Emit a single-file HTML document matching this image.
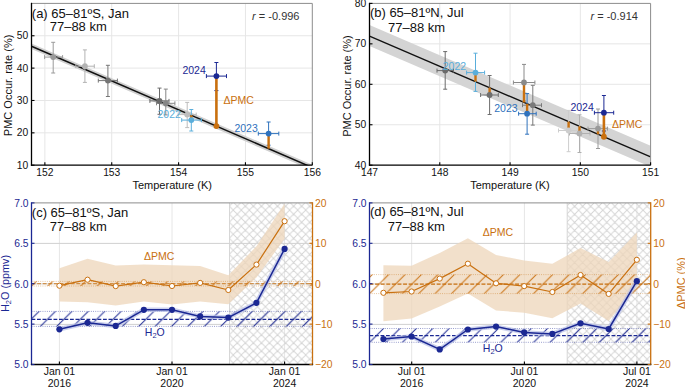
<!DOCTYPE html>
<html><head><meta charset="utf-8"><style>
html,body{margin:0;padding:0;background:#fff;}
svg{display:block;}
text{font-family:"Liberation Sans", sans-serif;}
</style></head><body>
<svg width="685" height="387" viewBox="0 0 685 387">
<rect width="685" height="387" fill="#fff"/>
<defs><pattern id="xhc" patternUnits="userSpaceOnUse" x="-0.2" y="0.8" width="8.05" height="8.05">
<path d="M0,0 L8.05,8.05 M8.05,0 L0,8.05 M-4.025,4.025 L4.025,-4.025 M4.025,12.075000000000001 L12.075000000000001,4.025 M-4.025,4.025 L4.025,12.075000000000001 M4.025,-4.025 L12.075000000000001,4.025" stroke="#d4d4d4" stroke-width="0.9" fill="none"/>
</pattern>
<pattern id="ohc" patternUnits="userSpaceOnUse" x="6.0" y="0" width="16.4" height="16.4">
<path d="M0,16.4 L16.4,0 M-8.2,8.2 L8.2,-8.2 M8.2,24.599999999999998 L24.599999999999998,8.2" stroke="#c9700f" stroke-width="1.0" fill="none"/>
</pattern>
<pattern id="bhc" patternUnits="userSpaceOnUse" x="6.0" y="0" width="16.4" height="16.4">
<path d="M0,16.4 L16.4,0 M-8.2,8.2 L8.2,-8.2 M8.2,24.599999999999998 L24.599999999999998,8.2" stroke="#1b2893" stroke-width="1.0" fill="none"/>
</pattern><pattern id="xhd" patternUnits="userSpaceOnUse" x="-0.95" y="0.95" width="8.05" height="8.05">
<path d="M0,0 L8.05,8.05 M8.05,0 L0,8.05 M-4.025,4.025 L4.025,-4.025 M4.025,12.075000000000001 L12.075000000000001,4.025 M-4.025,4.025 L4.025,12.075000000000001 M4.025,-4.025 L12.075000000000001,4.025" stroke="#d4d4d4" stroke-width="0.9" fill="none"/>
</pattern>
<pattern id="ohd" patternUnits="userSpaceOnUse" x="7.2" y="0" width="16.4" height="16.4">
<path d="M0,16.4 L16.4,0 M-8.2,8.2 L8.2,-8.2 M8.2,24.599999999999998 L24.599999999999998,8.2" stroke="#c9700f" stroke-width="1.0" fill="none"/>
</pattern>
<pattern id="bhd" patternUnits="userSpaceOnUse" x="6.8" y="0" width="16.4" height="16.4">
<path d="M0,16.4 L16.4,0 M-8.2,8.2 L8.2,-8.2 M8.2,24.599999999999998 L24.599999999999998,8.2" stroke="#1b2893" stroke-width="1.0" fill="none"/>
</pattern></defs>
<line x1="44.87" y1="3.40" x2="44.87" y2="165.20" stroke="#e6e6e6" stroke-width="1" />
<line x1="111.73" y1="3.40" x2="111.73" y2="165.20" stroke="#e6e6e6" stroke-width="1" />
<line x1="178.59" y1="3.40" x2="178.59" y2="165.20" stroke="#e6e6e6" stroke-width="1" />
<line x1="245.44" y1="3.40" x2="245.44" y2="165.20" stroke="#e6e6e6" stroke-width="1" />
<line x1="31.50" y1="132.84" x2="312.30" y2="132.84" stroke="#e6e6e6" stroke-width="1" />
<line x1="31.50" y1="100.48" x2="312.30" y2="100.48" stroke="#e6e6e6" stroke-width="1" />
<line x1="31.50" y1="68.12" x2="312.30" y2="68.12" stroke="#e6e6e6" stroke-width="1" />
<line x1="31.50" y1="35.76" x2="312.30" y2="35.76" stroke="#e6e6e6" stroke-width="1" />
<clipPath id="ca"><rect x="31.5" y="3.4" width="280.8" height="161.79999999999998"/></clipPath>
<g clip-path="url(#ca)">
<polygon points="31.50,43.40 312.30,164.76 312.30,170.36 31.50,49.00" fill="#d0d0d0" stroke="none" stroke-width="0" />
<line x1="31.50" y1="46.20" x2="312.30" y2="167.56" stroke="#111" stroke-width="1.5" />
</g>
<line x1="53.20" y1="42.30" x2="53.20" y2="73.00" stroke="#9a9a9a" stroke-width="1.0" />
<line x1="44.60" y1="57.10" x2="62.60" y2="57.10" stroke="#9a9a9a" stroke-width="1.0" />
<line x1="51.20" y1="42.30" x2="55.20" y2="42.30" stroke="#9a9a9a" stroke-width="1.0" />
<line x1="51.20" y1="73.00" x2="55.20" y2="73.00" stroke="#9a9a9a" stroke-width="1.0" />
<line x1="44.60" y1="55.10" x2="44.60" y2="59.10" stroke="#9a9a9a" stroke-width="1.0" />
<line x1="62.60" y1="55.10" x2="62.60" y2="59.10" stroke="#9a9a9a" stroke-width="1.0" />
<line x1="84.90" y1="49.90" x2="84.90" y2="82.40" stroke="#b3b3b3" stroke-width="1.0" />
<line x1="75.80" y1="66.20" x2="94.30" y2="66.20" stroke="#b3b3b3" stroke-width="1.0" />
<line x1="82.90" y1="49.90" x2="86.90" y2="49.90" stroke="#b3b3b3" stroke-width="1.0" />
<line x1="82.90" y1="82.40" x2="86.90" y2="82.40" stroke="#b3b3b3" stroke-width="1.0" />
<line x1="75.80" y1="64.20" x2="75.80" y2="68.20" stroke="#b3b3b3" stroke-width="1.0" />
<line x1="94.30" y1="64.20" x2="94.30" y2="68.20" stroke="#b3b3b3" stroke-width="1.0" />
<line x1="107.90" y1="65.30" x2="107.90" y2="96.50" stroke="#757575" stroke-width="1.0" />
<line x1="98.30" y1="80.60" x2="117.40" y2="80.60" stroke="#757575" stroke-width="1.0" />
<line x1="105.90" y1="65.30" x2="109.90" y2="65.30" stroke="#757575" stroke-width="1.0" />
<line x1="105.90" y1="96.50" x2="109.90" y2="96.50" stroke="#757575" stroke-width="1.0" />
<line x1="98.30" y1="78.60" x2="98.30" y2="82.60" stroke="#757575" stroke-width="1.0" />
<line x1="117.40" y1="78.60" x2="117.40" y2="82.60" stroke="#757575" stroke-width="1.0" />
<line x1="159.50" y1="88.10" x2="159.50" y2="114.30" stroke="#6a6a6a" stroke-width="1.0" />
<line x1="149.90" y1="100.90" x2="169.00" y2="100.90" stroke="#6a6a6a" stroke-width="1.0" />
<line x1="157.50" y1="88.10" x2="161.50" y2="88.10" stroke="#6a6a6a" stroke-width="1.0" />
<line x1="157.50" y1="114.30" x2="161.50" y2="114.30" stroke="#6a6a6a" stroke-width="1.0" />
<line x1="149.90" y1="98.90" x2="149.90" y2="102.90" stroke="#6a6a6a" stroke-width="1.0" />
<line x1="169.00" y1="98.90" x2="169.00" y2="102.90" stroke="#6a6a6a" stroke-width="1.0" />
<line x1="165.80" y1="89.10" x2="165.80" y2="114.90" stroke="#858585" stroke-width="1.0" />
<line x1="156.50" y1="103.30" x2="174.90" y2="103.30" stroke="#858585" stroke-width="1.0" />
<line x1="163.80" y1="89.10" x2="167.80" y2="89.10" stroke="#858585" stroke-width="1.0" />
<line x1="163.80" y1="114.90" x2="167.80" y2="114.90" stroke="#858585" stroke-width="1.0" />
<line x1="156.50" y1="101.30" x2="156.50" y2="105.30" stroke="#858585" stroke-width="1.0" />
<line x1="174.90" y1="101.30" x2="174.90" y2="105.30" stroke="#858585" stroke-width="1.0" />
<line x1="187.20" y1="102.40" x2="187.20" y2="127.60" stroke="#bdbdbd" stroke-width="1.0" />
<line x1="178.20" y1="114.60" x2="196.20" y2="114.60" stroke="#bdbdbd" stroke-width="1.0" />
<line x1="185.20" y1="102.40" x2="189.20" y2="102.40" stroke="#bdbdbd" stroke-width="1.0" />
<line x1="185.20" y1="127.60" x2="189.20" y2="127.60" stroke="#bdbdbd" stroke-width="1.0" />
<line x1="178.20" y1="112.60" x2="178.20" y2="116.60" stroke="#bdbdbd" stroke-width="1.0" />
<line x1="196.20" y1="112.60" x2="196.20" y2="116.60" stroke="#bdbdbd" stroke-width="1.0" />
<line x1="191.30" y1="109.50" x2="191.30" y2="131.00" stroke="#5aaedb" stroke-width="1.0" />
<line x1="181.70" y1="120.10" x2="201.40" y2="120.10" stroke="#5aaedb" stroke-width="1.0" />
<line x1="189.30" y1="109.50" x2="193.30" y2="109.50" stroke="#5aaedb" stroke-width="1.0" />
<line x1="189.30" y1="131.00" x2="193.30" y2="131.00" stroke="#5aaedb" stroke-width="1.0" />
<line x1="181.70" y1="118.10" x2="181.70" y2="122.10" stroke="#5aaedb" stroke-width="1.0" />
<line x1="201.40" y1="118.10" x2="201.40" y2="122.10" stroke="#5aaedb" stroke-width="1.0" />
<line x1="216.40" y1="62.50" x2="216.40" y2="90.60" stroke="#1b2893" stroke-width="1.0" />
<line x1="206.40" y1="76.10" x2="226.50" y2="76.10" stroke="#1b2893" stroke-width="1.0" />
<line x1="214.40" y1="62.50" x2="218.40" y2="62.50" stroke="#1b2893" stroke-width="1.0" />
<line x1="214.40" y1="90.60" x2="218.40" y2="90.60" stroke="#1b2893" stroke-width="1.0" />
<line x1="206.40" y1="74.10" x2="206.40" y2="78.10" stroke="#1b2893" stroke-width="1.0" />
<line x1="226.50" y1="74.10" x2="226.50" y2="78.10" stroke="#1b2893" stroke-width="1.0" />
<line x1="268.60" y1="122.00" x2="268.60" y2="145.20" stroke="#2f72bd" stroke-width="1.0" />
<line x1="258.30" y1="133.60" x2="278.80" y2="133.60" stroke="#2f72bd" stroke-width="1.0" />
<line x1="266.60" y1="122.00" x2="270.60" y2="122.00" stroke="#2f72bd" stroke-width="1.0" />
<line x1="266.60" y1="145.20" x2="270.60" y2="145.20" stroke="#2f72bd" stroke-width="1.0" />
<line x1="258.30" y1="131.60" x2="258.30" y2="135.60" stroke="#2f72bd" stroke-width="1.0" />
<line x1="278.80" y1="131.60" x2="278.80" y2="135.60" stroke="#2f72bd" stroke-width="1.0" />
<line x1="191.30" y1="120.10" x2="191.30" y2="115.27" stroke="#c9700f" stroke-width="2.4" />
<line x1="216.40" y1="76.10" x2="216.40" y2="126.11" stroke="#c9700f" stroke-width="2.6" />
<line x1="268.60" y1="133.60" x2="268.60" y2="148.67" stroke="#c9700f" stroke-width="2.4" />
<circle cx="53.20" cy="57.10" r="2.9" fill="#9a9a9a" stroke="none" stroke-width="0"/>
<circle cx="84.90" cy="66.20" r="2.9" fill="#b3b3b3" stroke="none" stroke-width="0"/>
<circle cx="107.90" cy="80.60" r="2.9" fill="#757575" stroke="none" stroke-width="0"/>
<circle cx="159.50" cy="100.90" r="2.9" fill="#6a6a6a" stroke="none" stroke-width="0"/>
<circle cx="165.80" cy="103.30" r="2.9" fill="#858585" stroke="none" stroke-width="0"/>
<circle cx="187.20" cy="114.60" r="2.9" fill="#bdbdbd" stroke="none" stroke-width="0"/>
<circle cx="191.30" cy="120.10" r="2.9" fill="#5aaedb" stroke="none" stroke-width="0"/>
<circle cx="216.40" cy="76.10" r="2.9" fill="#1b2893" stroke="none" stroke-width="0"/>
<circle cx="268.60" cy="133.60" r="2.9" fill="#2f72bd" stroke="none" stroke-width="0"/>
<circle cx="216.40" cy="126.11" r="2.9" fill="#c9700f" stroke="none" stroke-width="0"/>
<text x="205.80" y="74.00" font-size="10.5" fill="#1b2893" text-anchor="end" >2024</text>
<text x="180.90" y="117.80" font-size="10.5" fill="#5aaedb" text-anchor="end" >2022</text>
<text x="257.80" y="131.60" font-size="10.5" fill="#2f72bd" text-anchor="end" >2023</text>
<text x="223.60" y="104.40" font-size="10.5" fill="#c9700f" text-anchor="start" >ΔPMC</text>
<line x1="31.50" y1="3.40" x2="312.30" y2="3.40" stroke="#8c8c8c" stroke-width="1" />
<line x1="312.30" y1="3.40" x2="312.30" y2="165.20" stroke="#8c8c8c" stroke-width="1" />
<line x1="31.50" y1="2.80" x2="31.50" y2="165.80" stroke="#000" stroke-width="1.3" />
<line x1="30.90" y1="165.20" x2="312.30" y2="165.20" stroke="#000" stroke-width="1.3" />
<line x1="44.87" y1="165.20" x2="44.87" y2="162.20" stroke="#000" stroke-width="1.1" />
<text x="44.87" y="175.60" font-size="10.3" fill="#111" text-anchor="middle" >152</text>
<line x1="111.73" y1="165.20" x2="111.73" y2="162.20" stroke="#000" stroke-width="1.1" />
<text x="111.73" y="175.60" font-size="10.3" fill="#111" text-anchor="middle" >153</text>
<line x1="178.59" y1="165.20" x2="178.59" y2="162.20" stroke="#000" stroke-width="1.1" />
<text x="178.59" y="175.60" font-size="10.3" fill="#111" text-anchor="middle" >154</text>
<line x1="245.44" y1="165.20" x2="245.44" y2="162.20" stroke="#000" stroke-width="1.1" />
<text x="245.44" y="175.60" font-size="10.3" fill="#111" text-anchor="middle" >155</text>
<line x1="312.30" y1="165.20" x2="312.30" y2="162.20" stroke="#000" stroke-width="1.1" />
<text x="312.30" y="175.60" font-size="10.3" fill="#111" text-anchor="middle" >156</text>
<line x1="31.50" y1="165.20" x2="34.50" y2="165.20" stroke="#000" stroke-width="1.1" />
<text x="28.30" y="168.80" font-size="10.3" fill="#111" text-anchor="end" >10</text>
<line x1="31.50" y1="132.84" x2="34.50" y2="132.84" stroke="#000" stroke-width="1.1" />
<text x="28.30" y="136.44" font-size="10.3" fill="#111" text-anchor="end" >20</text>
<line x1="31.50" y1="100.48" x2="34.50" y2="100.48" stroke="#000" stroke-width="1.1" />
<text x="28.30" y="104.08" font-size="10.3" fill="#111" text-anchor="end" >30</text>
<line x1="31.50" y1="68.12" x2="34.50" y2="68.12" stroke="#000" stroke-width="1.1" />
<text x="28.30" y="71.72" font-size="10.3" fill="#111" text-anchor="end" >40</text>
<line x1="31.50" y1="35.76" x2="34.50" y2="35.76" stroke="#000" stroke-width="1.1" />
<text x="28.30" y="39.36" font-size="10.3" fill="#111" text-anchor="end" >50</text>
<text x="172.20" y="189.00" font-size="11" fill="#111" text-anchor="middle" >Temperature (K)</text>
<text x="0.00" y="0.00" font-size="11" fill="#111" text-anchor="middle" transform="translate(11.5,85.4) rotate(-90)">PMC Occur. rate (%)</text>
<text x="31.80" y="17.50" font-size="13" fill="#111" text-anchor="start" >(a) 65–81ºS, Jan</text>
<text x="49.70" y="31.40" font-size="13" fill="#111" text-anchor="start" >77–88 km</text>
<text x="252.10" y="19.80" font-size="11" fill="#333" text-anchor="start" ><tspan font-style="italic">r</tspan> = -0.996</text>
<line x1="439.77" y1="3.40" x2="439.77" y2="165.20" stroke="#e6e6e6" stroke-width="1" />
<line x1="510.05" y1="3.40" x2="510.05" y2="165.20" stroke="#e6e6e6" stroke-width="1" />
<line x1="580.33" y1="3.40" x2="580.33" y2="165.20" stroke="#e6e6e6" stroke-width="1" />
<line x1="369.50" y1="124.75" x2="650.60" y2="124.75" stroke="#e6e6e6" stroke-width="1" />
<line x1="369.50" y1="84.30" x2="650.60" y2="84.30" stroke="#e6e6e6" stroke-width="1" />
<line x1="369.50" y1="43.85" x2="650.60" y2="43.85" stroke="#e6e6e6" stroke-width="1" />
<clipPath id="cb"><rect x="369.5" y="3.4" width="281.1" height="161.79999999999998"/></clipPath>
<g clip-path="url(#cb)">
<polygon points="369.50,25.10 650.60,145.83 650.60,166.83 369.50,46.10" fill="#d4d4d4" stroke="none" stroke-width="0" />
<line x1="369.50" y1="36.10" x2="650.60" y2="156.83" stroke="#111" stroke-width="1.4" />
</g>
<line x1="445.20" y1="51.60" x2="445.20" y2="89.20" stroke="#6a6a6a" stroke-width="1.0" />
<line x1="437.00" y1="70.60" x2="453.50" y2="70.60" stroke="#6a6a6a" stroke-width="1.0" />
<line x1="443.20" y1="51.60" x2="447.20" y2="51.60" stroke="#6a6a6a" stroke-width="1.0" />
<line x1="443.20" y1="89.20" x2="447.20" y2="89.20" stroke="#6a6a6a" stroke-width="1.0" />
<line x1="437.00" y1="68.60" x2="437.00" y2="72.60" stroke="#6a6a6a" stroke-width="1.0" />
<line x1="453.50" y1="68.60" x2="453.50" y2="72.60" stroke="#6a6a6a" stroke-width="1.0" />
<line x1="489.60" y1="75.50" x2="489.60" y2="114.50" stroke="#6e6e6e" stroke-width="1.0" />
<line x1="480.60" y1="95.00" x2="498.30" y2="95.00" stroke="#6e6e6e" stroke-width="1.0" />
<line x1="487.60" y1="75.50" x2="491.60" y2="75.50" stroke="#6e6e6e" stroke-width="1.0" />
<line x1="487.60" y1="114.50" x2="491.60" y2="114.50" stroke="#6e6e6e" stroke-width="1.0" />
<line x1="480.60" y1="93.00" x2="480.60" y2="97.00" stroke="#6e6e6e" stroke-width="1.0" />
<line x1="498.30" y1="93.00" x2="498.30" y2="97.00" stroke="#6e6e6e" stroke-width="1.0" />
<line x1="524.00" y1="64.40" x2="524.00" y2="101.00" stroke="#8a8a8a" stroke-width="1.0" />
<line x1="513.40" y1="82.50" x2="534.90" y2="82.50" stroke="#8a8a8a" stroke-width="1.0" />
<line x1="522.00" y1="64.40" x2="526.00" y2="64.40" stroke="#8a8a8a" stroke-width="1.0" />
<line x1="522.00" y1="101.00" x2="526.00" y2="101.00" stroke="#8a8a8a" stroke-width="1.0" />
<line x1="513.40" y1="80.50" x2="513.40" y2="84.50" stroke="#8a8a8a" stroke-width="1.0" />
<line x1="534.90" y1="80.50" x2="534.90" y2="84.50" stroke="#8a8a8a" stroke-width="1.0" />
<line x1="532.80" y1="85.30" x2="532.80" y2="125.10" stroke="#7a7a7a" stroke-width="1.0" />
<line x1="522.50" y1="105.20" x2="541.50" y2="105.20" stroke="#7a7a7a" stroke-width="1.0" />
<line x1="530.80" y1="85.30" x2="534.80" y2="85.30" stroke="#7a7a7a" stroke-width="1.0" />
<line x1="530.80" y1="125.10" x2="534.80" y2="125.10" stroke="#7a7a7a" stroke-width="1.0" />
<line x1="522.50" y1="103.20" x2="522.50" y2="107.20" stroke="#7a7a7a" stroke-width="1.0" />
<line x1="541.50" y1="103.20" x2="541.50" y2="107.20" stroke="#7a7a7a" stroke-width="1.0" />
<line x1="568.60" y1="110.40" x2="568.60" y2="151.70" stroke="#cdcdcd" stroke-width="1.0" />
<line x1="558.50" y1="130.50" x2="578.00" y2="130.50" stroke="#cdcdcd" stroke-width="1.0" />
<line x1="566.60" y1="110.40" x2="570.60" y2="110.40" stroke="#cdcdcd" stroke-width="1.0" />
<line x1="566.60" y1="151.70" x2="570.60" y2="151.70" stroke="#cdcdcd" stroke-width="1.0" />
<line x1="558.50" y1="128.50" x2="558.50" y2="132.50" stroke="#cdcdcd" stroke-width="1.0" />
<line x1="578.00" y1="128.50" x2="578.00" y2="132.50" stroke="#cdcdcd" stroke-width="1.0" />
<line x1="579.50" y1="114.80" x2="579.50" y2="152.50" stroke="#b0b0b0" stroke-width="1.0" />
<line x1="569.50" y1="133.50" x2="590.00" y2="133.50" stroke="#b0b0b0" stroke-width="1.0" />
<line x1="577.50" y1="114.80" x2="581.50" y2="114.80" stroke="#b0b0b0" stroke-width="1.0" />
<line x1="577.50" y1="152.50" x2="581.50" y2="152.50" stroke="#b0b0b0" stroke-width="1.0" />
<line x1="569.50" y1="131.50" x2="569.50" y2="135.50" stroke="#b0b0b0" stroke-width="1.0" />
<line x1="590.00" y1="131.50" x2="590.00" y2="135.50" stroke="#b0b0b0" stroke-width="1.0" />
<line x1="598.00" y1="109.00" x2="598.00" y2="148.50" stroke="#9a9a9a" stroke-width="1.0" />
<line x1="588.00" y1="128.60" x2="607.50" y2="128.60" stroke="#9a9a9a" stroke-width="1.0" />
<line x1="596.00" y1="109.00" x2="600.00" y2="109.00" stroke="#9a9a9a" stroke-width="1.0" />
<line x1="596.00" y1="148.50" x2="600.00" y2="148.50" stroke="#9a9a9a" stroke-width="1.0" />
<line x1="588.00" y1="126.60" x2="588.00" y2="130.60" stroke="#9a9a9a" stroke-width="1.0" />
<line x1="607.50" y1="126.60" x2="607.50" y2="130.60" stroke="#9a9a9a" stroke-width="1.0" />
<line x1="475.50" y1="53.20" x2="475.50" y2="91.40" stroke="#5aaedb" stroke-width="1.0" />
<line x1="466.60" y1="72.60" x2="484.60" y2="72.60" stroke="#5aaedb" stroke-width="1.0" />
<line x1="473.50" y1="53.20" x2="477.50" y2="53.20" stroke="#5aaedb" stroke-width="1.0" />
<line x1="473.50" y1="91.40" x2="477.50" y2="91.40" stroke="#5aaedb" stroke-width="1.0" />
<line x1="466.60" y1="70.60" x2="466.60" y2="74.60" stroke="#5aaedb" stroke-width="1.0" />
<line x1="484.60" y1="70.60" x2="484.60" y2="74.60" stroke="#5aaedb" stroke-width="1.0" />
<line x1="527.10" y1="93.60" x2="527.10" y2="134.20" stroke="#2f72bd" stroke-width="1.0" />
<line x1="518.60" y1="113.70" x2="536.20" y2="113.70" stroke="#2f72bd" stroke-width="1.0" />
<line x1="525.10" y1="93.60" x2="529.10" y2="93.60" stroke="#2f72bd" stroke-width="1.0" />
<line x1="525.10" y1="134.20" x2="529.10" y2="134.20" stroke="#2f72bd" stroke-width="1.0" />
<line x1="518.60" y1="111.70" x2="518.60" y2="115.70" stroke="#2f72bd" stroke-width="1.0" />
<line x1="536.20" y1="111.70" x2="536.20" y2="115.70" stroke="#2f72bd" stroke-width="1.0" />
<line x1="603.90" y1="95.50" x2="603.90" y2="131.00" stroke="#1b2893" stroke-width="1.0" />
<line x1="594.40" y1="112.70" x2="613.70" y2="112.70" stroke="#1b2893" stroke-width="1.0" />
<line x1="601.90" y1="95.50" x2="605.90" y2="95.50" stroke="#1b2893" stroke-width="1.0" />
<line x1="601.90" y1="131.00" x2="605.90" y2="131.00" stroke="#1b2893" stroke-width="1.0" />
<line x1="594.40" y1="110.70" x2="594.40" y2="114.70" stroke="#1b2893" stroke-width="1.0" />
<line x1="613.70" y1="110.70" x2="613.70" y2="114.70" stroke="#1b2893" stroke-width="1.0" />
<line x1="445.20" y1="70.60" x2="445.20" y2="68.61" stroke="#c9700f" stroke-width="2.4" />
<line x1="489.60" y1="95.00" x2="489.60" y2="87.68" stroke="#c9700f" stroke-width="2.4" />
<line x1="524.00" y1="82.50" x2="524.00" y2="102.46" stroke="#c9700f" stroke-width="2.4" />
<line x1="532.80" y1="105.20" x2="532.80" y2="106.24" stroke="#c9700f" stroke-width="2.4" />
<line x1="568.60" y1="130.50" x2="568.60" y2="121.61" stroke="#c9700f" stroke-width="2.4" />
<line x1="579.50" y1="133.50" x2="579.50" y2="126.29" stroke="#c9700f" stroke-width="2.4" />
<line x1="598.00" y1="128.60" x2="598.00" y2="134.24" stroke="#c9700f" stroke-width="2.4" />
<line x1="475.50" y1="72.60" x2="475.50" y2="81.63" stroke="#c9700f" stroke-width="2.4" />
<line x1="527.10" y1="113.70" x2="527.10" y2="103.79" stroke="#c9700f" stroke-width="2.4" />
<line x1="603.90" y1="112.70" x2="603.90" y2="136.77" stroke="#c9700f" stroke-width="2.6" />
<circle cx="445.20" cy="70.60" r="2.9" fill="#6a6a6a" stroke="none" stroke-width="0"/>
<circle cx="489.60" cy="95.00" r="2.9" fill="#6e6e6e" stroke="none" stroke-width="0"/>
<circle cx="524.00" cy="82.50" r="2.9" fill="#8a8a8a" stroke="none" stroke-width="0"/>
<circle cx="532.80" cy="105.20" r="2.9" fill="#7a7a7a" stroke="none" stroke-width="0"/>
<circle cx="568.60" cy="130.50" r="2.9" fill="#cdcdcd" stroke="none" stroke-width="0"/>
<circle cx="579.50" cy="133.50" r="2.9" fill="#b0b0b0" stroke="none" stroke-width="0"/>
<circle cx="598.00" cy="128.60" r="2.9" fill="#9a9a9a" stroke="none" stroke-width="0"/>
<circle cx="475.50" cy="72.60" r="2.9" fill="#5aaedb" stroke="none" stroke-width="0"/>
<circle cx="527.10" cy="113.70" r="2.9" fill="#2f72bd" stroke="none" stroke-width="0"/>
<circle cx="603.90" cy="112.70" r="2.9" fill="#1b2893" stroke="none" stroke-width="0"/>
<circle cx="603.90" cy="136.77" r="2.9" fill="#c9700f" stroke="none" stroke-width="0"/>
<text x="593.80" y="110.50" font-size="10.5" fill="#1b2893" text-anchor="end" >2024</text>
<text x="466.10" y="69.80" font-size="10.5" fill="#5aaedb" text-anchor="end" >2022</text>
<text x="517.60" y="112.00" font-size="10.5" fill="#2f72bd" text-anchor="end" >2023</text>
<text x="612.10" y="127.90" font-size="10.5" fill="#c9700f" text-anchor="start" >ΔPMC</text>
<line x1="369.50" y1="3.40" x2="650.60" y2="3.40" stroke="#8c8c8c" stroke-width="1" />
<line x1="650.60" y1="3.40" x2="650.60" y2="165.20" stroke="#8c8c8c" stroke-width="1" />
<line x1="369.50" y1="2.80" x2="369.50" y2="165.80" stroke="#000" stroke-width="1.3" />
<line x1="368.90" y1="165.20" x2="650.60" y2="165.20" stroke="#000" stroke-width="1.3" />
<line x1="369.50" y1="165.20" x2="369.50" y2="162.20" stroke="#000" stroke-width="1.1" />
<text x="369.50" y="175.60" font-size="10.3" fill="#111" text-anchor="middle" >147</text>
<line x1="439.77" y1="165.20" x2="439.77" y2="162.20" stroke="#000" stroke-width="1.1" />
<text x="439.77" y="175.60" font-size="10.3" fill="#111" text-anchor="middle" >148</text>
<line x1="510.05" y1="165.20" x2="510.05" y2="162.20" stroke="#000" stroke-width="1.1" />
<text x="510.05" y="175.60" font-size="10.3" fill="#111" text-anchor="middle" >149</text>
<line x1="580.33" y1="165.20" x2="580.33" y2="162.20" stroke="#000" stroke-width="1.1" />
<text x="580.33" y="175.60" font-size="10.3" fill="#111" text-anchor="middle" >150</text>
<line x1="650.60" y1="165.20" x2="650.60" y2="162.20" stroke="#000" stroke-width="1.1" />
<text x="650.60" y="175.60" font-size="10.3" fill="#111" text-anchor="middle" >151</text>
<line x1="369.50" y1="165.20" x2="372.50" y2="165.20" stroke="#000" stroke-width="1.1" />
<text x="366.30" y="168.80" font-size="10.3" fill="#111" text-anchor="end" >40</text>
<line x1="369.50" y1="124.75" x2="372.50" y2="124.75" stroke="#000" stroke-width="1.1" />
<text x="366.30" y="128.35" font-size="10.3" fill="#111" text-anchor="end" >50</text>
<line x1="369.50" y1="84.30" x2="372.50" y2="84.30" stroke="#000" stroke-width="1.1" />
<text x="366.30" y="87.90" font-size="10.3" fill="#111" text-anchor="end" >60</text>
<line x1="369.50" y1="43.85" x2="372.50" y2="43.85" stroke="#000" stroke-width="1.1" />
<text x="366.30" y="47.45" font-size="10.3" fill="#111" text-anchor="end" >70</text>
<line x1="369.50" y1="3.40" x2="372.50" y2="3.40" stroke="#000" stroke-width="1.1" />
<text x="366.30" y="7.00" font-size="10.3" fill="#111" text-anchor="end" >80</text>
<text x="510.00" y="189.00" font-size="11" fill="#111" text-anchor="middle" >Temperature (K)</text>
<text x="0.00" y="0.00" font-size="11" fill="#111" text-anchor="middle" transform="translate(350.6,86.0) rotate(-90)">PMC Occur. rate (%)</text>
<text x="369.90" y="17.20" font-size="13" fill="#111" text-anchor="start" >(b) 65–81ºN, Jul</text>
<text x="388.00" y="31.60" font-size="13" fill="#111" text-anchor="start" >77–88 km</text>
<text x="590.50" y="19.80" font-size="11" fill="#333" text-anchor="start" ><tspan font-style="italic">r</tspan> = -0.914</text>
<clipPath id="cc"><rect x="31.5" y="202.9" width="281.0" height="161.6"/></clipPath>
<line x1="59.40" y1="202.90" x2="59.40" y2="364.50" stroke="#e6e6e6" stroke-width="1" />
<line x1="172.00" y1="202.90" x2="172.00" y2="364.50" stroke="#e6e6e6" stroke-width="1" />
<line x1="284.60" y1="202.90" x2="284.60" y2="364.50" stroke="#e6e6e6" stroke-width="1" />
<line x1="31.50" y1="243.40" x2="312.50" y2="243.40" stroke="#d0d0d0" stroke-width="1" />
<line x1="31.50" y1="283.90" x2="312.50" y2="283.90" stroke="#d0d0d0" stroke-width="1" />
<line x1="31.50" y1="324.40" x2="312.50" y2="324.40" stroke="#d0d0d0" stroke-width="1" />
<rect x="229.5" y="202.9" width="83.0" height="161.6" fill="url(#xhc)"/>
<line x1="229.50" y1="202.90" x2="229.50" y2="364.50" stroke="#d2d2d2" stroke-width="0.9" />
<polygon points="59.40,268.30 87.55,258.80 115.70,265.50 143.85,264.40 172.00,265.20 200.15,266.00 228.30,275.30 256.45,246.20 284.60,203.60 284.60,238.80 256.45,277.50 228.30,304.30 200.15,301.40 172.00,304.60 143.85,301.40 115.70,305.50 87.55,302.30 59.40,301.60" fill="#eed6ba" stroke="none" stroke-width="0" fill-opacity="0.75"/>
<g clip-path="url(#cc)">
<rect x="31.5" y="281.4" width="281.0" height="4.600000000000023" fill="url(#ohc)"/>
<line x1="31.50" y1="281.40" x2="312.50" y2="281.40" stroke="#c9700f" stroke-width="0.8" stroke-dasharray="0.9 1.3" stroke-opacity="0.55"/>
<line x1="31.50" y1="286.00" x2="312.50" y2="286.00" stroke="#c9700f" stroke-width="0.8" stroke-dasharray="0.9 1.3" stroke-opacity="0.55"/>
<line x1="31.50" y1="283.50" x2="312.50" y2="283.50" stroke="#c9700f" stroke-width="1.25" stroke-dasharray="3.9 1.7" stroke-opacity="0.7"/>
<rect x="31.5" y="311.4" width="281.0" height="15.0" fill="url(#bhc)"/>
<line x1="31.50" y1="311.40" x2="312.50" y2="311.40" stroke="#1b2893" stroke-width="0.75" stroke-dasharray="0.9 1.3" stroke-opacity="0.65"/>
<line x1="31.50" y1="326.40" x2="312.50" y2="326.40" stroke="#1b2893" stroke-width="0.75" stroke-dasharray="0.9 1.3" stroke-opacity="0.65"/>
<line x1="31.50" y1="319.30" x2="312.50" y2="319.30" stroke="#1b2893" stroke-width="1.15" stroke-dasharray="3.8 1.7"/>
</g>
<polyline points="59.40,285.70 87.55,279.70 115.70,286.10 143.85,282.20 172.00,286.00 200.15,282.90 228.30,290.00 256.45,264.60 284.60,221.20" fill="none" stroke="#c9700f" stroke-width="1.2" stroke-linejoin="round" />
<circle cx="59.40" cy="285.70" r="2.6" fill="#fff" stroke="#c9700f" stroke-width="1.0"/>
<circle cx="87.55" cy="279.70" r="2.6" fill="#fff" stroke="#c9700f" stroke-width="1.0"/>
<circle cx="115.70" cy="286.10" r="2.6" fill="#fff" stroke="#c9700f" stroke-width="1.0"/>
<circle cx="143.85" cy="282.20" r="2.6" fill="#fff" stroke="#c9700f" stroke-width="1.0"/>
<circle cx="172.00" cy="286.00" r="2.6" fill="#fff" stroke="#c9700f" stroke-width="1.0"/>
<circle cx="200.15" cy="282.90" r="2.6" fill="#fff" stroke="#c9700f" stroke-width="1.0"/>
<circle cx="228.30" cy="290.00" r="2.6" fill="#fff" stroke="#c9700f" stroke-width="1.0"/>
<circle cx="256.45" cy="264.60" r="2.6" fill="#fff" stroke="#c9700f" stroke-width="1.0"/>
<circle cx="284.60" cy="221.20" r="2.6" fill="#fff" stroke="#c9700f" stroke-width="1.0"/>
<polyline points="59.40,329.30 87.55,322.80 115.70,325.90 143.85,309.80 172.00,309.80 200.15,316.40 228.30,317.60 256.45,302.80 284.60,248.90" fill="none" stroke="#b8bfe6" stroke-width="4.5" stroke-linejoin="round" stroke-opacity="0.7"/>
<polyline points="59.40,329.30 87.55,322.80 115.70,325.90 143.85,309.80 172.00,309.80 200.15,316.40 228.30,317.60 256.45,302.80 284.60,248.90" fill="none" stroke="#1b2893" stroke-width="1.5" stroke-linejoin="round" />
<circle cx="59.40" cy="329.30" r="3.1" fill="#1b2893" stroke="none" stroke-width="0"/>
<circle cx="87.55" cy="322.80" r="3.1" fill="#1b2893" stroke="none" stroke-width="0"/>
<circle cx="115.70" cy="325.90" r="3.1" fill="#1b2893" stroke="none" stroke-width="0"/>
<circle cx="143.85" cy="309.80" r="3.1" fill="#1b2893" stroke="none" stroke-width="0"/>
<circle cx="172.00" cy="309.80" r="3.1" fill="#1b2893" stroke="none" stroke-width="0"/>
<circle cx="200.15" cy="316.40" r="3.1" fill="#1b2893" stroke="none" stroke-width="0"/>
<circle cx="228.30" cy="317.60" r="3.1" fill="#1b2893" stroke="none" stroke-width="0"/>
<circle cx="256.45" cy="302.80" r="3.1" fill="#1b2893" stroke="none" stroke-width="0"/>
<circle cx="284.60" cy="248.90" r="3.1" fill="#1b2893" stroke="none" stroke-width="0"/>
<text x="143.90" y="260.10" font-size="10.5" fill="#c9700f" text-anchor="start" >ΔPMC</text>
<text x="144.80" y="335.50" font-size="10.5" fill="#1b2893" text-anchor="start" >H<tspan font-size="7.5" dy="2">2</tspan><tspan dy="-2">O</tspan></text>
<line x1="31.50" y1="202.90" x2="312.50" y2="202.90" stroke="#8c8c8c" stroke-width="1" />
<line x1="31.50" y1="202.30" x2="31.50" y2="365.10" stroke="#1b2893" stroke-width="1.3" />
<line x1="312.50" y1="202.30" x2="312.50" y2="365.10" stroke="#c9700f" stroke-width="1.3" />
<line x1="30.90" y1="364.50" x2="313.10" y2="364.50" stroke="#000" stroke-width="1.3" />
<line x1="59.40" y1="364.50" x2="59.40" y2="361.50" stroke="#000" stroke-width="1.1" />
<line x1="172.00" y1="364.50" x2="172.00" y2="361.50" stroke="#000" stroke-width="1.1" />
<line x1="284.60" y1="364.50" x2="284.60" y2="361.50" stroke="#000" stroke-width="1.1" />
<text x="59.40" y="375.10" font-size="10.5" fill="#111" text-anchor="middle" >Jan 01</text>
<text x="59.40" y="386.50" font-size="10.5" fill="#111" text-anchor="middle" >2016</text>
<text x="172.00" y="375.10" font-size="10.5" fill="#111" text-anchor="middle" >Jan 01</text>
<text x="172.00" y="386.50" font-size="10.5" fill="#111" text-anchor="middle" >2020</text>
<text x="284.60" y="375.10" font-size="10.5" fill="#111" text-anchor="middle" >Jan 01</text>
<text x="284.60" y="386.50" font-size="10.5" fill="#111" text-anchor="middle" >2024</text>
<line x1="31.50" y1="364.50" x2="34.50" y2="364.50" stroke="#1b2893" stroke-width="1.1" />
<text x="28.60" y="368.40" font-size="10.3" fill="#1b2893" text-anchor="end" >5.0</text>
<line x1="31.50" y1="324.10" x2="34.50" y2="324.10" stroke="#1b2893" stroke-width="1.1" />
<text x="28.60" y="328.00" font-size="10.3" fill="#1b2893" text-anchor="end" >5.5</text>
<line x1="31.50" y1="283.70" x2="34.50" y2="283.70" stroke="#1b2893" stroke-width="1.1" />
<text x="28.60" y="287.60" font-size="10.3" fill="#1b2893" text-anchor="end" >6.0</text>
<line x1="31.50" y1="243.30" x2="34.50" y2="243.30" stroke="#1b2893" stroke-width="1.1" />
<text x="28.60" y="247.20" font-size="10.3" fill="#1b2893" text-anchor="end" >6.5</text>
<line x1="31.50" y1="202.90" x2="34.50" y2="202.90" stroke="#1b2893" stroke-width="1.1" />
<text x="28.60" y="206.80" font-size="10.3" fill="#1b2893" text-anchor="end" >7.0</text>
<line x1="312.50" y1="202.90" x2="309.50" y2="202.90" stroke="#c9700f" stroke-width="1.1" />
<text x="315.10" y="206.80" font-size="10.3" fill="#c9700f" text-anchor="start" >20</text>
<line x1="312.50" y1="243.30" x2="309.50" y2="243.30" stroke="#c9700f" stroke-width="1.1" />
<text x="315.10" y="247.20" font-size="10.3" fill="#c9700f" text-anchor="start" >10</text>
<line x1="312.50" y1="283.70" x2="309.50" y2="283.70" stroke="#c9700f" stroke-width="1.1" />
<text x="315.10" y="287.60" font-size="10.3" fill="#c9700f" text-anchor="start" >0</text>
<line x1="312.50" y1="324.10" x2="309.50" y2="324.10" stroke="#c9700f" stroke-width="1.1" />
<text x="315.10" y="328.00" font-size="10.3" fill="#c9700f" text-anchor="start" >−10</text>
<line x1="312.50" y1="364.50" x2="309.50" y2="364.50" stroke="#c9700f" stroke-width="1.1" />
<text x="315.10" y="368.40" font-size="10.3" fill="#c9700f" text-anchor="start" >−20</text>
<text x="31.80" y="216.80" font-size="13" fill="#111" text-anchor="start" >(c) 65–81ºS, Jan</text>
<text x="49.70" y="230.70" font-size="13" fill="#111" text-anchor="start" >77–88 km</text>
<text x="0.00" y="0.00" font-size="10.8" fill="#1b2893" text-anchor="middle" transform="translate(8.6,283.5) rotate(-90)">H<tspan font-size="7.5" dy="2">2</tspan><tspan dy="-2">O (ppmv)</tspan></text>
<clipPath id="cd"><rect x="369.5" y="202.9" width="281.20000000000005" height="161.6"/></clipPath>
<line x1="411.70" y1="202.90" x2="411.70" y2="364.50" stroke="#e6e6e6" stroke-width="1" />
<line x1="524.40" y1="202.90" x2="524.40" y2="364.50" stroke="#e6e6e6" stroke-width="1" />
<line x1="636.90" y1="202.90" x2="636.90" y2="364.50" stroke="#e6e6e6" stroke-width="1" />
<line x1="369.50" y1="243.40" x2="650.70" y2="243.40" stroke="#d0d0d0" stroke-width="1" />
<line x1="369.50" y1="283.90" x2="650.70" y2="283.90" stroke="#d0d0d0" stroke-width="1" />
<line x1="369.50" y1="324.40" x2="650.70" y2="324.40" stroke="#d0d0d0" stroke-width="1" />
<rect x="567.2" y="202.9" width="83.5" height="161.6" fill="url(#xhd)"/>
<line x1="567.20" y1="202.90" x2="567.20" y2="364.50" stroke="#d2d2d2" stroke-width="0.9" />
<polygon points="383.40,265.20 411.56,265.70 439.72,252.90 467.88,238.20 496.04,254.90 524.20,260.60 552.36,263.80 580.52,248.00 608.68,262.00 636.84,232.50 636.84,287.00 608.68,321.00 580.52,303.50 552.36,318.30 524.20,312.70 496.04,310.50 467.88,293.50 439.72,306.50 411.56,318.60 383.40,321.30" fill="#eed6ba" stroke="none" stroke-width="0" fill-opacity="0.75"/>
<g clip-path="url(#cd)">
<rect x="369.5" y="274.6" width="281.20000000000005" height="19.0" fill="url(#ohd)"/>
<line x1="369.50" y1="274.60" x2="650.70" y2="274.60" stroke="#c9700f" stroke-width="0.8" stroke-dasharray="0.9 1.3" stroke-opacity="0.55"/>
<line x1="369.50" y1="293.60" x2="650.70" y2="293.60" stroke="#c9700f" stroke-width="0.8" stroke-dasharray="0.9 1.3" stroke-opacity="0.55"/>
<line x1="369.50" y1="284.00" x2="650.70" y2="284.00" stroke="#c9700f" stroke-width="1.25" stroke-dasharray="3.9 1.7" stroke-opacity="1.0"/>
<rect x="369.5" y="328.5" width="281.20000000000005" height="13.800000000000011" fill="url(#bhd)"/>
<line x1="369.50" y1="328.50" x2="650.70" y2="328.50" stroke="#1b2893" stroke-width="0.75" stroke-dasharray="0.9 1.3" stroke-opacity="0.65"/>
<line x1="369.50" y1="342.30" x2="650.70" y2="342.30" stroke="#1b2893" stroke-width="0.75" stroke-dasharray="0.9 1.3" stroke-opacity="0.65"/>
<line x1="369.50" y1="335.60" x2="650.70" y2="335.60" stroke="#1b2893" stroke-width="1.15" stroke-dasharray="3.8 1.7"/>
</g>
<polyline points="383.40,292.80 411.56,291.50 439.72,278.60 467.88,263.70 496.04,283.30 524.20,286.10 552.36,292.00 580.52,275.00 608.68,293.90 636.84,259.80" fill="none" stroke="#c9700f" stroke-width="1.2" stroke-linejoin="round" />
<circle cx="383.40" cy="292.80" r="2.6" fill="#fff" stroke="#c9700f" stroke-width="1.0"/>
<circle cx="411.56" cy="291.50" r="2.6" fill="#fff" stroke="#c9700f" stroke-width="1.0"/>
<circle cx="439.72" cy="278.60" r="2.6" fill="#fff" stroke="#c9700f" stroke-width="1.0"/>
<circle cx="467.88" cy="263.70" r="2.6" fill="#fff" stroke="#c9700f" stroke-width="1.0"/>
<circle cx="496.04" cy="283.30" r="2.6" fill="#fff" stroke="#c9700f" stroke-width="1.0"/>
<circle cx="524.20" cy="286.10" r="2.6" fill="#fff" stroke="#c9700f" stroke-width="1.0"/>
<circle cx="552.36" cy="292.00" r="2.6" fill="#fff" stroke="#c9700f" stroke-width="1.0"/>
<circle cx="580.52" cy="275.00" r="2.6" fill="#fff" stroke="#c9700f" stroke-width="1.0"/>
<circle cx="608.68" cy="293.90" r="2.6" fill="#fff" stroke="#c9700f" stroke-width="1.0"/>
<circle cx="636.84" cy="259.80" r="2.6" fill="#fff" stroke="#c9700f" stroke-width="1.0"/>
<polyline points="383.40,339.00 411.56,336.50 439.72,349.40 467.88,329.50 496.04,326.60 524.20,332.40 552.36,333.90 580.52,323.30 608.68,329.00 636.84,281.20" fill="none" stroke="#b8bfe6" stroke-width="4.5" stroke-linejoin="round" stroke-opacity="0.7"/>
<polyline points="383.40,339.00 411.56,336.50 439.72,349.40 467.88,329.50 496.04,326.60 524.20,332.40 552.36,333.90 580.52,323.30 608.68,329.00 636.84,281.20" fill="none" stroke="#1b2893" stroke-width="1.5" stroke-linejoin="round" />
<circle cx="383.40" cy="339.00" r="3.1" fill="#1b2893" stroke="none" stroke-width="0"/>
<circle cx="411.56" cy="336.50" r="3.1" fill="#1b2893" stroke="none" stroke-width="0"/>
<circle cx="439.72" cy="349.40" r="3.1" fill="#1b2893" stroke="none" stroke-width="0"/>
<circle cx="467.88" cy="329.50" r="3.1" fill="#1b2893" stroke="none" stroke-width="0"/>
<circle cx="496.04" cy="326.60" r="3.1" fill="#1b2893" stroke="none" stroke-width="0"/>
<circle cx="524.20" cy="332.40" r="3.1" fill="#1b2893" stroke="none" stroke-width="0"/>
<circle cx="552.36" cy="333.90" r="3.1" fill="#1b2893" stroke="none" stroke-width="0"/>
<circle cx="580.52" cy="323.30" r="3.1" fill="#1b2893" stroke="none" stroke-width="0"/>
<circle cx="608.68" cy="329.00" r="3.1" fill="#1b2893" stroke="none" stroke-width="0"/>
<circle cx="636.84" cy="281.20" r="3.1" fill="#1b2893" stroke="none" stroke-width="0"/>
<text x="482.70" y="235.90" font-size="10.5" fill="#c9700f" text-anchor="start" >ΔPMC</text>
<text x="482.80" y="352.20" font-size="10.5" fill="#1b2893" text-anchor="start" >H<tspan font-size="7.5" dy="2">2</tspan><tspan dy="-2">O</tspan></text>
<line x1="369.50" y1="202.90" x2="650.70" y2="202.90" stroke="#8c8c8c" stroke-width="1" />
<line x1="369.50" y1="202.30" x2="369.50" y2="365.10" stroke="#1b2893" stroke-width="1.3" />
<line x1="650.70" y1="202.30" x2="650.70" y2="365.10" stroke="#c9700f" stroke-width="1.3" />
<line x1="368.90" y1="364.50" x2="651.30" y2="364.50" stroke="#000" stroke-width="1.3" />
<line x1="411.70" y1="364.50" x2="411.70" y2="361.50" stroke="#000" stroke-width="1.1" />
<line x1="524.40" y1="364.50" x2="524.40" y2="361.50" stroke="#000" stroke-width="1.1" />
<line x1="636.90" y1="364.50" x2="636.90" y2="361.50" stroke="#000" stroke-width="1.1" />
<text x="411.70" y="375.10" font-size="10.5" fill="#111" text-anchor="middle" >Jul 01</text>
<text x="411.70" y="386.50" font-size="10.5" fill="#111" text-anchor="middle" >2016</text>
<text x="524.40" y="375.10" font-size="10.5" fill="#111" text-anchor="middle" >Jul 01</text>
<text x="524.40" y="386.50" font-size="10.5" fill="#111" text-anchor="middle" >2020</text>
<text x="636.90" y="375.10" font-size="10.5" fill="#111" text-anchor="middle" >Jul 01</text>
<text x="636.90" y="386.50" font-size="10.5" fill="#111" text-anchor="middle" >2024</text>
<line x1="369.50" y1="364.50" x2="372.50" y2="364.50" stroke="#1b2893" stroke-width="1.1" />
<text x="366.60" y="368.40" font-size="10.3" fill="#1b2893" text-anchor="end" >5.0</text>
<line x1="369.50" y1="324.10" x2="372.50" y2="324.10" stroke="#1b2893" stroke-width="1.1" />
<text x="366.60" y="328.00" font-size="10.3" fill="#1b2893" text-anchor="end" >5.5</text>
<line x1="369.50" y1="283.70" x2="372.50" y2="283.70" stroke="#1b2893" stroke-width="1.1" />
<text x="366.60" y="287.60" font-size="10.3" fill="#1b2893" text-anchor="end" >6.0</text>
<line x1="369.50" y1="243.30" x2="372.50" y2="243.30" stroke="#1b2893" stroke-width="1.1" />
<text x="366.60" y="247.20" font-size="10.3" fill="#1b2893" text-anchor="end" >6.5</text>
<line x1="369.50" y1="202.90" x2="372.50" y2="202.90" stroke="#1b2893" stroke-width="1.1" />
<text x="366.60" y="206.80" font-size="10.3" fill="#1b2893" text-anchor="end" >7.0</text>
<line x1="650.70" y1="202.90" x2="647.70" y2="202.90" stroke="#c9700f" stroke-width="1.1" />
<text x="653.30" y="206.80" font-size="10.3" fill="#c9700f" text-anchor="start" >20</text>
<line x1="650.70" y1="243.30" x2="647.70" y2="243.30" stroke="#c9700f" stroke-width="1.1" />
<text x="653.30" y="247.20" font-size="10.3" fill="#c9700f" text-anchor="start" >10</text>
<line x1="650.70" y1="283.70" x2="647.70" y2="283.70" stroke="#c9700f" stroke-width="1.1" />
<text x="653.30" y="287.60" font-size="10.3" fill="#c9700f" text-anchor="start" >0</text>
<line x1="650.70" y1="324.10" x2="647.70" y2="324.10" stroke="#c9700f" stroke-width="1.1" />
<text x="653.30" y="328.00" font-size="10.3" fill="#c9700f" text-anchor="start" >−10</text>
<line x1="650.70" y1="364.50" x2="647.70" y2="364.50" stroke="#c9700f" stroke-width="1.1" />
<text x="653.30" y="368.40" font-size="10.3" fill="#c9700f" text-anchor="start" >−20</text>
<text x="369.90" y="216.40" font-size="13" fill="#111" text-anchor="start" >(d) 65–81ºN, Jul</text>
<text x="387.80" y="230.70" font-size="13" fill="#111" text-anchor="start" >77–88 km</text>
<text x="0.00" y="0.00" font-size="10.9" fill="#c9700f" text-anchor="middle" transform="translate(684.6,283.2) rotate(-90)">ΔPMC (%)</text>
</svg></body></html>
